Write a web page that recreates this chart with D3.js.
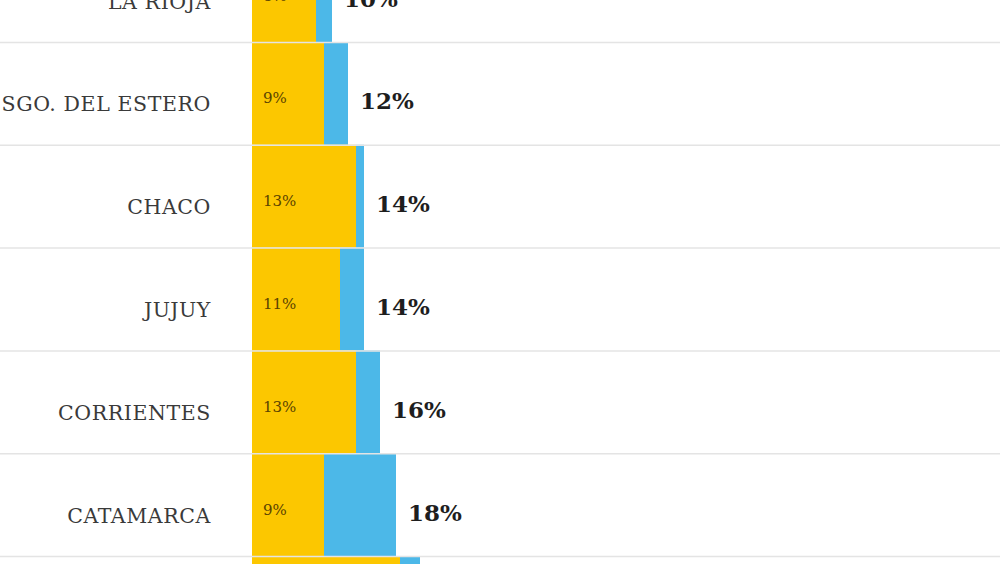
<!DOCTYPE html>
<html>
<head>
<meta charset="utf-8">
<script src="https://cdn.jsdelivr.net/npm/d3@7"></script>
<style>
  body { margin: 0; background: #fff; }
  svg { display: block; }
</style>
</head>
<body>
<script>
// data (percent)
var provincias = ["LA RIOJA", "SGO. DEL ESTERO", "CHACO", "JUJUY", "CORRIENTES", "CATAMARCA", "FORMOSA"];
var base = [8, 9, 13, 11, 13, 9, 18.5];     // yellow part
var total = [10, 12, 14, 14, 16, 18, 21];    // yellow + blue
var baseLabels = ["8%", "9%", "13%", "11%", "13%", "9%", "18%"];
var totalLabels = ["10%", "12%", "14%", "14%", "16%", "18%", "21%"];

var width = 1000,
    height = 564;

var data = provincias.map(function (p, i) {
    return { name: p, base: base[i], total: total[i], baseLabel: baseLabels[i], totalLabel: totalLabels[i] };
});

var svg = d3.select("body").append("svg")
    .attr("width", width)
    .attr("height", height);

var x = d3.scaleLinear()
    .domain([0, 25])
    .range([252, 452]);

var y = d3.scaleBand()
    .domain(provincias)
    .range([-60.8, 658.8])
    .padding(0);

var rows = svg.selectAll("g.row")
    .data(data)
    .enter().append("g")
    .attr("class", "row")
    .attr("transform", function (d) { return "translate(0," + y(d.name) + ")"; });

// blue part (drawn from the end of the yellow)
rows.append("rect")
    .attr("x", function (d) { return x(d.base); })
    .attr("y", 0)
    .attr("width", function (d) { return x(d.total) - x(d.base); })
    .attr("height", y.bandwidth())
    .attr("fill", "#4cb8e8");

// yellow part
rows.append("rect")
    .attr("x", x(0))
    .attr("y", 0)
    .attr("width", function (d) { return x(d.base) - x(0); })
    .attr("height", y.bandwidth())
    .attr("fill", "#fcc700");

// separators
rows.append("line")
    .attr("x1", 0)
    .attr("x2", width)
    .attr("y1", 0.5)
    .attr("y2", 0.5)
    .attr("stroke", "#e4e4e4")
    .attr("stroke-width", 1.5);

var mid = y.bandwidth() / 2;

rows.append("text")
    .text(function (d) { return d.name; })
    .attr("x", 211)
    .attr("y", mid + 18)
    .attr("text-anchor", "end")
    .attr("font-family", "DejaVu Serif")
    .attr("font-size", "20.5px")
    .attr("letter-spacing", "0.6px")
    .attr("fill", "#3a3a3a");

rows.append("text")
    .text(function (d) { return d.baseLabel; })
    .attr("x", x(0) + 11)
    .attr("y", mid + 10)
    .attr("font-family", "DejaVu Serif")
    .attr("font-size", "15px")
    .attr("fill", "#5a4300");

rows.append("text")
    .text(function (d) { return d.totalLabel; })
    .attr("x", function (d) { return x(d.total) + 12; })
    .attr("y", mid + 16)
    .attr("font-family", "DejaVu Serif")
    .attr("font-weight", "bold")
    .attr("font-size", "23px")
    .attr("fill", "#1e1e1e");
</script>
</body>
</html>
